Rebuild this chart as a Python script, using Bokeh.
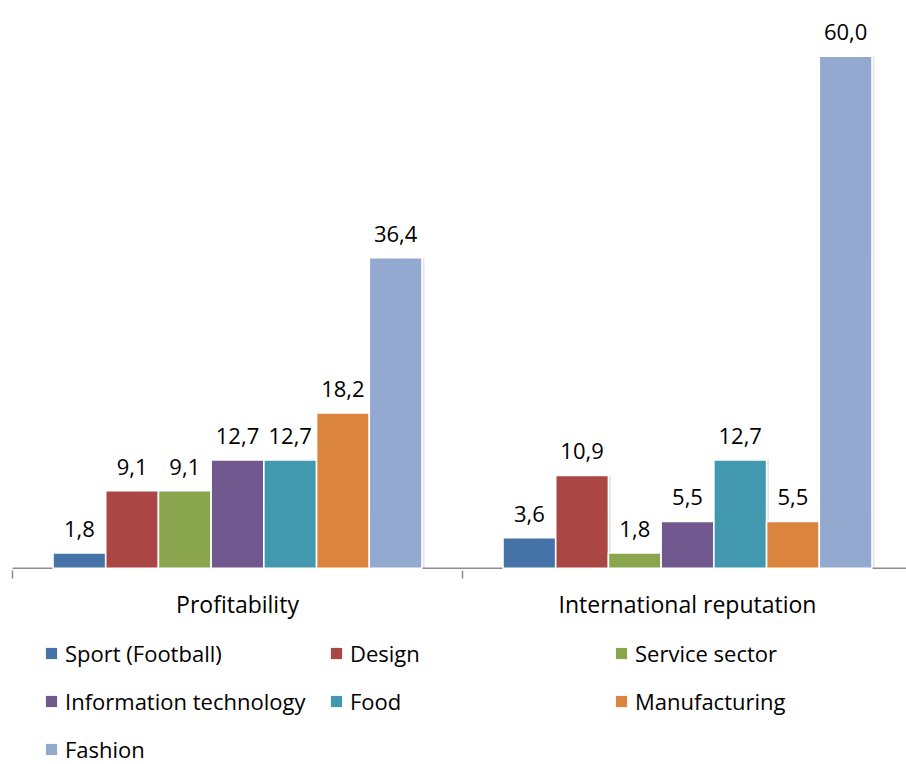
from bokeh.plotting import figure
from bokeh.layouts import column
from bokeh.models import FixedTicker, Legend, LegendItem, Range1d
from bokeh.core.properties import value
from bokeh.embed import file_html
from bokeh.resources import INLINE

# Chart data
categories = ["Profitability", "International reputation"]
sectors = ["Sport (Football)", "Design", "Service sector", "Information technology",
           "Food", "Manufacturing", "Fashion"]
profitability = [1.8, 9.1, 9.1, 12.7, 12.7, 18.2, 36.4]
reputation = [3.6, 10.9, 1.8, 5.5, 12.7, 5.5, 60.0]
colors = ["#4572A7", "#AA4643", "#89A54E", "#71588F", "#4198AF", "#DB843D", "#93A9CF"]

FONT = "Open Sans"

W = 906
CHART_H = 622
LEGEND_H = 142
n_cat = len(categories)
n_ser = len(sectors)
group_frac = 0.82              # share of each category slot used by the bar cluster
bw = group_frac / n_ser        # single bar width in category units
px = 450.0                     # pixels per category slot

p = figure(width=W, height=CHART_H, output_backend="svg", toolbar_location=None,
           x_range=Range1d(-12 / px, n_cat - 6 / px),
           y_range=Range1d(-0.25, 66.54),
           min_border_left=0, min_border_right=0, min_border_top=0,
           min_border_bottom=50)
p.outline_line_color = None
p.grid.visible = False
p.yaxis.visible = False
p.background_fill_color = "white"
p.border_fill_color = "white"

# category baseline
p.segment(x0=[0], y0=[0], x1=[n_cat], y1=[0], line_color="#8C8C8C", line_width=1.5)

for i, name in enumerate(sectors):
    xs = [c + 0.5 + (i - (n_ser - 1) / 2) * bw for c in range(n_cat)]
    tops = [profitability[i], reputation[i]]
    # soft drop shadow
    p.vbar(x=[x + 2.5 / px for x in xs], top=tops, bottom=0, width=bw,
           fill_color="#000000", fill_alpha=0.10, line_color=None)
    p.vbar(x=xs, top=tops, bottom=0, width=bw, fill_color=colors[i],
           line_color="white", line_width=1.6)
    labels = [f"{v:.1f}".replace(".", ",") for v in tops]
    p.text(x=xs, y=tops, text=labels, text_align="center", text_baseline="alphabetic",
           y_offset=-24, text_font=value(FONT), text_font_size="22px",
           text_color="#000000")

ax = p.xaxis[0]
ax.ticker = FixedTicker(ticks=[c + 0.5 for c in range(n_cat)],
                        minor_ticks=list(range(n_cat + 1)))
ax.major_label_overrides = {c + 0.5: name for c, name in enumerate(categories)}
ax.axis_line_color = None
ax.major_tick_line_color = None
ax.major_tick_out = 0
ax.major_tick_in = 0
ax.minor_tick_line_color = "#8C8C8C"
ax.minor_tick_line_width = 1.5
ax.minor_tick_out = 8
ax.minor_tick_in = 0
ax.major_label_standoff = 9
ax.major_label_text_font = FONT
ax.major_label_text_font_size = "23px"
ax.major_label_text_color = "#000000"

# legend strip below the chart
lg = figure(width=W, height=LEGEND_H, output_backend="svg", toolbar_location=None,
            x_range=Range1d(0, 1), y_range=Range1d(0, 1),
            min_border_left=0, min_border_right=0, min_border_top=0, min_border_bottom=0)
lg.axis.visible = False
lg.grid.visible = False
lg.outline_line_color = None
lg.border_fill_color = "white"

items = []
for i, name in enumerate(sectors):
    # zero-height swatch renderer, used only for the legend key
    r = lg.vbar(x=[0.5], top=[0], bottom=0, width=0.1, fill_color=colors[i], line_color=None)
    items.append(LegendItem(label=name, renderers=[r]))

legend = Legend(items=items, location=(44, 0), orientation="horizontal",
                ncols=3, glyph_width=14, glyph_height=14, label_standoff=7,
                label_width=246, label_height=29, spacing=18, padding=0, margin=0,
                border_line_color=None, background_fill_alpha=0,
                label_text_font=FONT, label_text_font_size="22px",
                label_text_color="#000000")
lg.add_layout(legend, "center")

layout = column(p, lg, spacing=0)
open("out.html", "w").write(file_html(layout, INLINE))
